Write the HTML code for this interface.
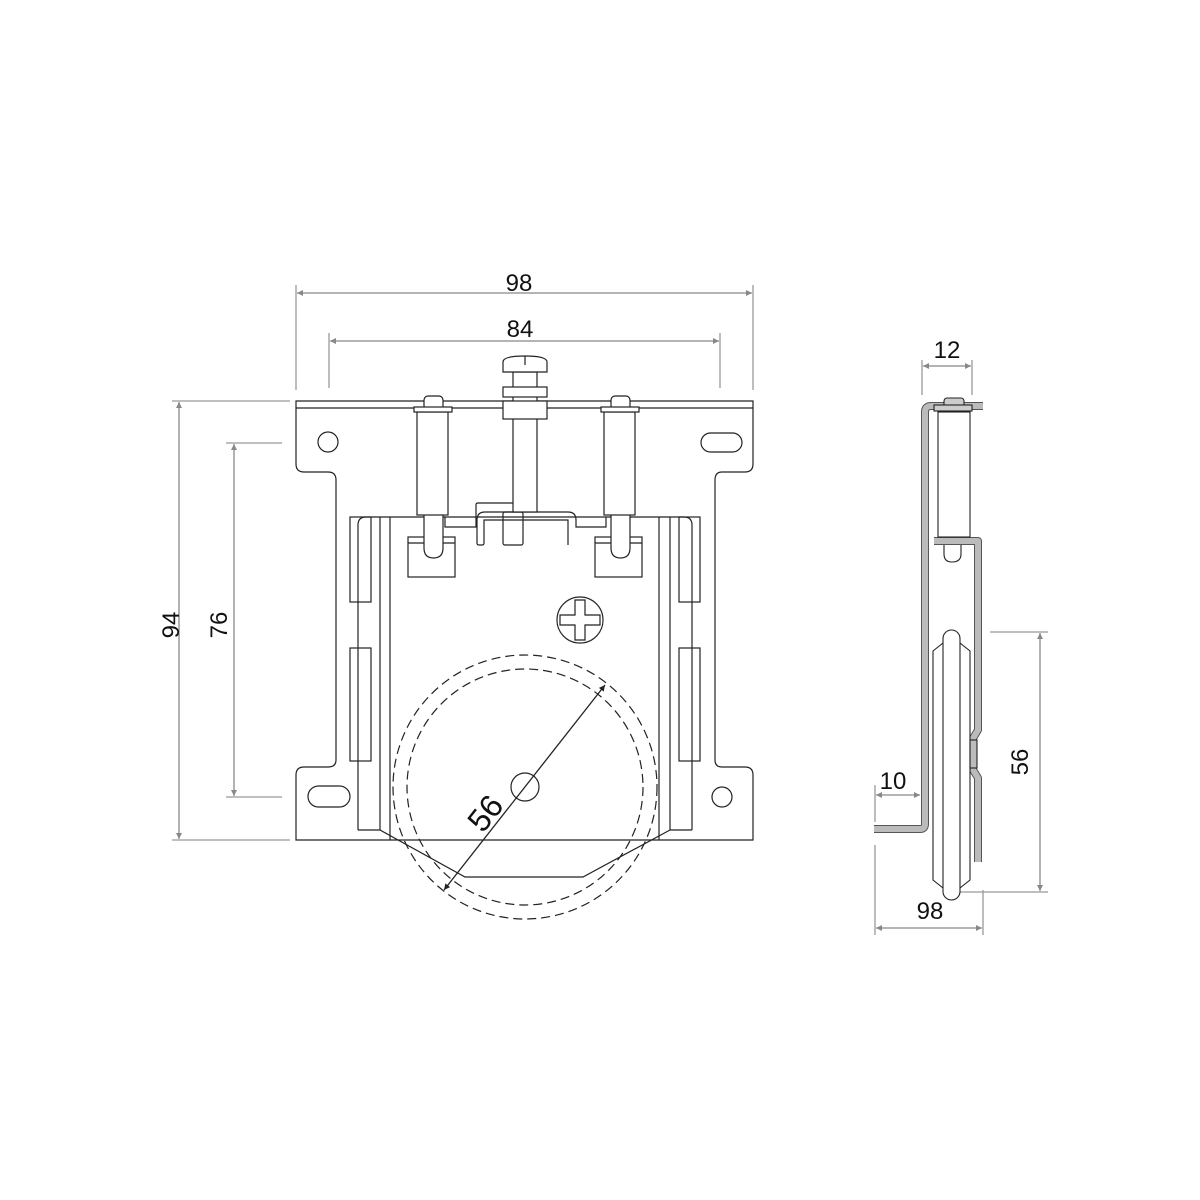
<!DOCTYPE html>
<html><head><meta charset="utf-8"><style>body{margin:0;background:#fff}svg{display:block}</style></head><body>
<svg width="1200" height="1200" viewBox="0 0 1200 1200" xmlns="http://www.w3.org/2000/svg">
<defs>
<marker id="a" viewBox="0 0 10 10" refX="10" refY="5" markerWidth="8" markerHeight="6" orient="auto-start-reverse" markerUnits="userSpaceOnUse"><path d="M0,0L10,5L0,10z" fill="#888"/></marker>
<marker id="b" viewBox="0 0 10 10" refX="10" refY="5" markerWidth="8" markerHeight="6" orient="auto-start-reverse" markerUnits="userSpaceOnUse"><path d="M0,0L10,5L0,10z" fill="#222"/></marker>
</defs>
<g stroke="#999" stroke-width="1.3" fill="none">
<line x1="296" y1="285" x2="296" y2="390"/><line x1="753" y1="285" x2="753" y2="390"/>
<line x1="329" y1="333" x2="329" y2="388"/><line x1="720" y1="333" x2="720" y2="388"/>
<line x1="172" y1="401" x2="290" y2="401"/><line x1="172" y1="840" x2="290" y2="840"/>
<line x1="226" y1="443" x2="282" y2="443"/><line x1="226" y1="797" x2="282" y2="797"/>
<line x1="922" y1="360" x2="922" y2="395"/><line x1="972" y1="360" x2="972" y2="395"/>
<line x1="875" y1="785" x2="875" y2="822"/><line x1="875" y1="845" x2="875" y2="935"/><line x1="983" y1="890" x2="983" y2="935"/>
<line x1="990" y1="632" x2="1048" y2="632"/><line x1="960" y1="892" x2="1048" y2="892"/>
</g>
<g stroke="#888" stroke-width="1.3" marker-start="url(#a)" marker-end="url(#a)">
<line x1="297" y1="293" x2="752" y2="293"/>
<line x1="330" y1="341" x2="719" y2="341"/>
<line x1="179" y1="402" x2="179" y2="839"/>
<line x1="234" y1="444" x2="234" y2="796"/>
<line x1="923" y1="366" x2="971" y2="366"/>
<line x1="876" y1="795" x2="920" y2="795"/>
<line x1="876" y1="928" x2="982" y2="928"/>
<line x1="1040" y1="633" x2="1040" y2="891"/>
</g>
<g font-family="Liberation Sans, sans-serif" font-size="24" fill="#111" text-anchor="middle">
<text x="519" y="291">98</text>
<text x="520" y="337">84</text>
<text transform="translate(179,625) rotate(-90)">94</text>
<text transform="translate(227,625) rotate(-90)">76</text>
<text x="947" y="358">12</text>
<text x="893" y="789">10</text>
<text x="930" y="919">98</text>
<text transform="translate(1028,762) rotate(-90)">56</text>
</g>
<g stroke="#222" stroke-width="1.2" fill="#fff">
<path d="M296,401H753V464Q753,472 745,472H722Q715,472 715,480V760Q715,767 722,767H745Q753,767 753,775V840H296V775Q296,767 304,767H328Q336,767 336,760V480Q336,472 328,472H304Q296,472 296,464Z"/>
<line x1="296" y1="408" x2="753" y2="408"/>
<circle cx="328" cy="442" r="10"/><rect x="701" y="433" width="41" height="19" rx="9.5"/>
<rect x="308" y="786" width="42" height="21" rx="10.5"/><circle cx="722" cy="797" r="10"/>
<path d="M380,517H670" fill="none"/>
<path d="M358,830V525Q358,517 366,517H380" fill="none"/>
<path d="M692,830V525Q692,517 684,517H670" fill="none"/>
<line x1="358" y1="830" x2="380" y2="830"/><line x1="670" y1="830" x2="692" y2="830"/>
<line x1="380" y1="517" x2="380" y2="830"/><line x1="390" y1="517" x2="390" y2="840"/>
<line x1="670" y1="517" x2="670" y2="830"/><line x1="659" y1="517" x2="659" y2="840"/>
<rect x="350" y="517" width="21" height="85" fill="none"/><rect x="350" y="648" width="21" height="113" fill="none"/>
<rect x="679" y="517" width="21" height="85" fill="none"/><rect x="679" y="648" width="21" height="113" fill="none"/>
<path d="M380,830L465,877H583L670,830" fill="none"/>
<circle cx="580" cy="620" r="23"/>
<path d="M575,600h10v15h15v10h-15v15h-10v-15h-15v-10h15z" fill="none"/>
<g id="p"><rect x="408" y="537" width="47" height="40"/><line x1="408" y1="543" x2="455" y2="543"/>
<path d="M424,515V548Q424,558 433.5,558Q443,558 443,548V515" /><rect x="417" y="412" width="31" height="103"/>
<rect x="424" y="396" width="19" height="14" rx="4"/><rect x="414" y="407" width="38" height="5"/></g>
<use href="#p" transform="translate(187,0)"/>
<path d="M445,517V527H476V505Q476,503 478,503H513" fill="none"/>
<path d="M606,517V527H576V520Q576,512 568,512H485Q477,512 477,520V543Q477,545 479,545H482Q484,545 484,543V520H568V545" fill="none"/>
<rect x="503" y="512" width="20" height="33" rx="2" fill="none"/>
<rect x="513" y="372" width="24" height="140"/>
<rect x="503" y="401" width="44" height="18"/>
<rect x="503" y="387" width="44" height="10"/>
<path d="M503,372V362Q503,356 525,356Q547,356 547,362V372Z"/><path d="M525,356V365" fill="none"/>
</g>
<g stroke="#222" stroke-width="1.2" fill="none" stroke-dasharray="9,5">
<circle cx="525" cy="787" r="132"/><circle cx="525" cy="787" r="118"/>
</g>
<circle cx="525" cy="787" r="14" stroke="#222" stroke-width="1.2" fill="none"/>
<line x1="444" y1="890" x2="605" y2="685" stroke="#222" stroke-width="1.3" marker-start="url(#b)" marker-end="url(#b)"/>
<text transform="translate(494,820) rotate(-52)" font-family="Liberation Sans, sans-serif" font-size="32" fill="#111" text-anchor="middle">56</text>
<g fill="none" stroke-linejoin="round">
<path d="M874,829H920Q925,829 925,824V412Q925,406 931,406H983" stroke="#555" stroke-width="8"/>
<path d="M874,829H920Q925,829 925,824V412Q925,406 931,406H983" stroke="#bbb" stroke-width="6"/>
<path d="M934,541H978V730L972,740V768L978,778V862" stroke="#555" stroke-width="8"/>
<path d="M934,541H978V730L972,740V768L978,778V862" stroke="#bbb" stroke-width="6"/>
</g>
<g stroke="#222" stroke-width="1.1" fill="#fff">
<rect x="938" y="412" width="32" height="125"/>
<rect x="944" y="398" width="20" height="10" rx="3" fill="#ccc"/>
<rect x="934" y="405" width="38" height="6" fill="#ccc"/>
<path d="M944,545V554Q944,562 952,562Q961,562 961,554V545" fill="none"/>
<path d="M933,651L943,643H960L970,651V880L960,888H943L933,880Z"/>
<rect x="943" y="630" width="17" height="270" rx="8.5"/>
<rect x="970" y="740" width="7" height="28" fill="#bbb"/>
</g>
</svg>
</body></html>
